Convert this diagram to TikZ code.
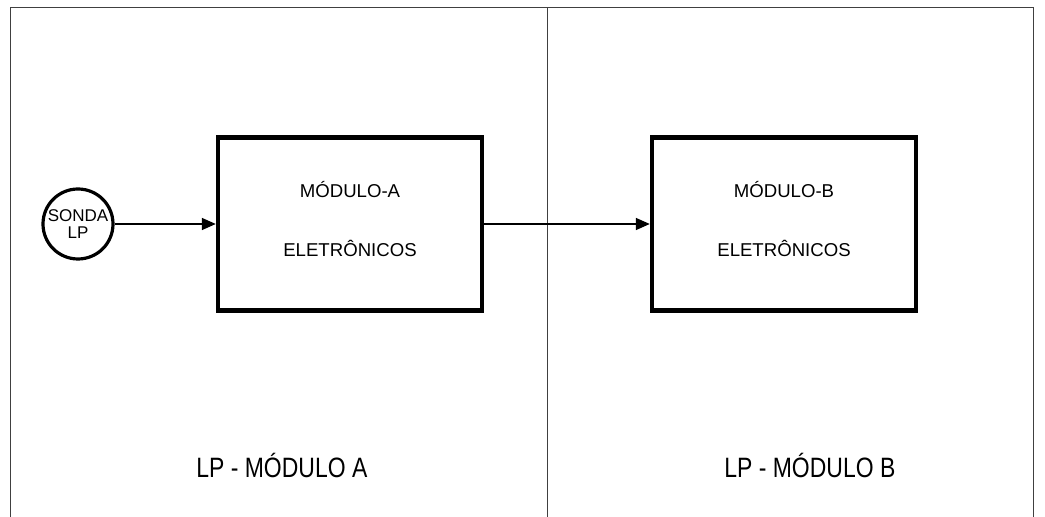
\documentclass[tikz,border=0pt]{standalone}
\usepackage{fontspec}
\setmainfont{Liberation Sans}
\usetikzlibrary{arrows.meta,positioning}

\begin{document}
\begin{tikzpicture}[x=0.5pt,y=-0.5pt,
    modbox/.style={draw,line width=2.2pt,minimum width=132pt,minimum height=86.5pt,inner sep=0pt},
    sonda/.style={circle,draw,line width=1.6pt,minimum size=35pt,inner sep=0pt,align=center,font=\fontsize{8.5}{8.5}\selectfont},
    txt/.style={inner sep=0pt,font=\fontsize{9.3}{11}\selectfont},
    rotulo/.style={inner sep=0pt,anchor=west,font=\fontsize{14}{16}\selectfont},
    seta/.style={-{Triangle[length=7pt,width=6pt]},line width=0.8pt},
    moldura/.style={line width=0.5pt,black!75}]
  \useasboundingbox (0,0) rectangle (1045,517);
  % moldura e divisao
  \draw[moldura] (10,517) -- (10,8) -- (1033,8) -- (1033,517);
  \draw[moldura] (547,8) -- (547,517);
  % sonda e modulos
  \node[sonda] (sonda) at (78,224) {SONDA\\LP};
  \node[modbox] (modA) at (350,224) {};
  \node[modbox] (modB) at (784,224) {};
  \node[txt] (modAt) at (350,190) {MÓDULO-A};
  \node[txt] (modAe) at (350,248) {ELETRÔNICOS};
  \node[txt] (modBt) at (784,190) {MÓDULO-B};
  \node[txt] (modBe) at (784,248) {ELETRÔNICOS};
  % ligacoes
  \draw[seta] (sonda) -- (modA);
  \draw[seta] (modA) -- (modB);
  % rotulos
  \node[rotulo] (rotA) at (196,466) {\scalebox{0.82}[1]{LP - MÓDULO A}};
  \node[rotulo] (rotB) at (724,466) {\scalebox{0.82}[1]{LP - MÓDULO B}};
\end{tikzpicture}
\end{document}
